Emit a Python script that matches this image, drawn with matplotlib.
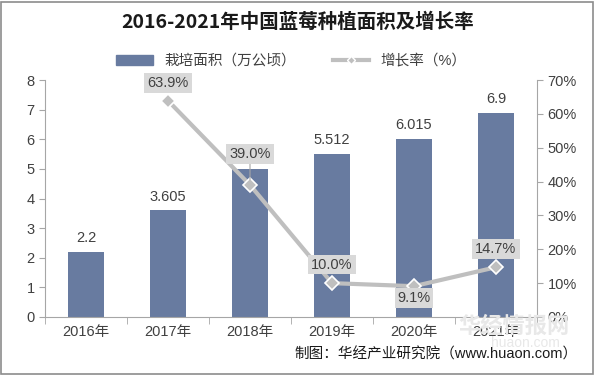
import matplotlib.pyplot as plt
import matplotlib.patches as mpatches
import numpy as np

plt.rcParams['font.family'] = ['Liberation Sans', 'Noto Sans CJK SC']

# 数据
years = ['2016年', '2017年', '2018年', '2019年', '2020年', '2021年']
area = [2.2, 3.605, 5.0, 5.512, 6.015, 6.9]
area_labels = ['2.2', '3.605', '', '5.512', '6.015', '6.9']
growth = [None, 63.9, 39.0, 10.0, 9.1, 14.7]
growth_labels = ['', '63.9%', '39.0%', '10.0%', '9.1%', '14.7%']
label_off = [0, 5.3, 9.2, 5.5, -3.4, 5.3]   # 标签相对点的偏移(百分点)

bar_color = '#687BA0'
line_color = '#BFBFBF'
text_color = '#404040'

fig = plt.figure(figsize=(5.95, 3.75), dpi=100)
ax = fig.add_axes([45/595, 1-317/375, 492/595, 237/375])
ax2 = ax.twinx()

x = np.arange(len(years))
ax.bar(x, area, width=0.44, color=bar_color, zorder=2)
for i, (v, s) in enumerate(zip(area, area_labels)):
    if s:
        ax.text(i, v + 0.22, s, ha='center', va='bottom', fontsize=10.5, color=text_color)

ax.set_xlim(-0.5, len(years) - 0.5)
ax.set_ylim(0, 8)
ax.set_yticks(range(0, 9))
ax.set_xticks(x)
ax.set_xticklabels(years, fontsize=10.5, color=text_color)
ax.tick_params(axis='y', labelsize=10.5, colors=text_color, length=4, color='#A6A6A6')
ax.tick_params(axis='x', length=0, pad=6)
# x方向分隔刻度
ax.set_xticks(np.arange(-0.5, len(years), 1), minor=True)
ax.tick_params(axis='x', which='minor', length=5, color='#A6A6A6')
ax.spines['top'].set_visible(False)
ax.spines['left'].set_color('#A6A6A6')
ax.spines['bottom'].set_color('#A6A6A6')
ax.spines['right'].set_visible(False)

gx = [i for i, g in enumerate(growth) if g is not None]
gy = [g for g in growth if g is not None]
ax2.plot(gx, gy, color=line_color, linewidth=3, marker='D', markersize=7,
         markerfacecolor=line_color, markeredgecolor='white', markeredgewidth=1.2, zorder=3)
ax2.set_ylim(0, 70)
ax2.set_yticks(range(0, 71, 10))
ax2.set_yticklabels([f'{t}%' for t in range(0, 71, 10)])
ax2.tick_params(axis='y', labelsize=10.5, colors=text_color, length=4, color='#A6A6A6')
for side in ['top', 'left', 'bottom']:
    ax2.spines[side].set_visible(False)
ax2.spines['right'].set_color('#A6A6A6')

for i in gx:
    g = growth[i]
    ap = dict(arrowstyle='-', color='#A6A6A6', lw=0.8, shrinkA=0, shrinkB=4) if label_off[i] > 8 else None
    ax2.annotate(growth_labels[i], xy=(i, g), xytext=(i, g + label_off[i]), ha='center', va='center',
                 fontsize=10.5, color=text_color, zorder=5,
                 bbox=dict(boxstyle='square,pad=0.2', fc='#D9D9D9', ec='none'),
                 arrowprops=ap)

fig.text(0.5, 1-22/375, '2016-2021年中国蓝莓种植面积及增长率', ha='center', va='center',
         fontsize=14, fontweight='bold', family=['Noto Sans CJK SC'], color='#1a1a1a')

h1 = mpatches.Patch(color=bar_color)
h2 = plt.Line2D([], [], color=line_color, linewidth=3, marker='D', markersize=4,
                markerfacecolor=line_color, markeredgecolor='white')
fig.legend([h1, h2], ['栽培面积（万公顷）', '增长率（%）'], loc='center',
           bbox_to_anchor=(0.49, 1-61/375), ncol=2, frameon=False, fontsize=10.5,
           handlelength=2.5, columnspacing=2.5, labelcolor=text_color)

# 水印
fig.text(570/595, 1-327/375, '华经情报网', ha='right', va='center', fontsize=16,
         fontweight='bold', color='#E8E8E8', zorder=0)
fig.text(560/595, 1-343/375, 'huaon.com', ha='right', va='center', fontsize=10,
         color='#E8E8E8', zorder=0)

fig.text(578/595, 1-355/375, '制图：华经产业研究院（www.huaon.com）', ha='right', va='center',
         fontsize=10.5, color='#1a1a1a')

fig.patches.append(mpatches.Rectangle((0.002, 0.003), 0.995, 0.993, transform=fig.transFigure,
                                      fill=False, ec='#8C8C8C', lw=1.2))

fig.savefig('out.png', dpi=100)
